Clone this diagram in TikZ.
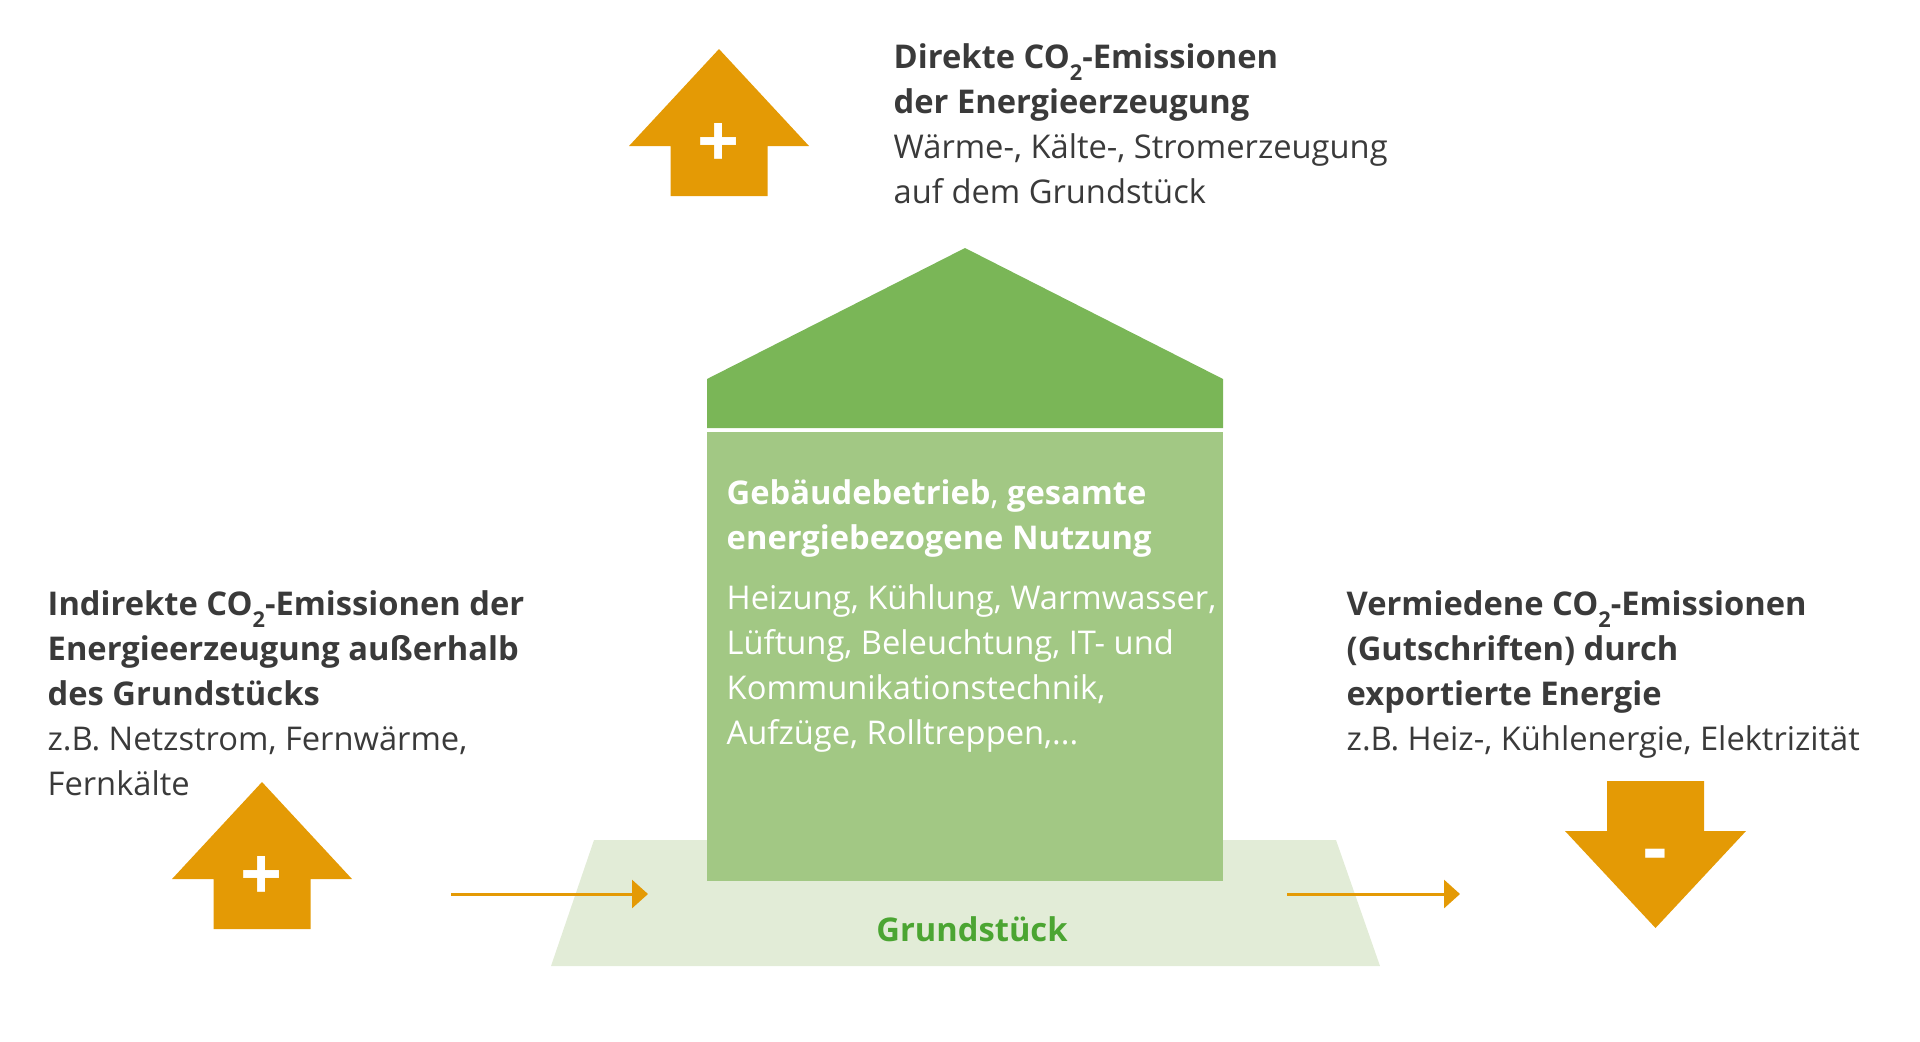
\documentclass[tikz,border=0pt]{standalone}
\usepackage{fontspec}
\setmainfont{Open Sans}
\usetikzlibrary{positioning, arrows.meta}
\definecolor{emissionorange}{RGB}{228,154,5}
\definecolor{roofgreen}{RGB}{122,182,87}
\definecolor{housegreen}{RGB}{162,200,132}
\definecolor{plotgreen}{RGB}{226,236,215}
\definecolor{plotlabel}{RGB}{75,165,50}
\definecolor{textgrey}{RGB}{58,58,58}
\newcommand{\COtwo}{CO\raisebox{-3.4pt}{\fontsize{6.2}{6.2}\selectfont 2}}

\begin{document}
\begin{tikzpicture}[
    every node/.style={font=\fontsize{9.3}{12.8}\selectfont, inner sep=0pt},
    caption/.style={anchor=north west, align=left, text=textgrey},
    inside/.style={anchor=north west, align=left, text=white},
    sign/.style={anchor=base, text=white, font=\fontsize{21}{21}\selectfont\bfseries},
    flow/.style={draw=emissionorange, line width=0.85pt,
                 -{Triangle[length=0.16cm, width=0.28cm]}},
  ]
    \useasboundingbox (0,0) rectangle (19.2,-10.41);
    % plot under the building
    \fill[plotgreen] (5.51,-9.66) -- (5.94,-8.40) -- (13.36,-8.40) -- (13.80,-9.66) -- cycle;
    \node[anchor=base, text=plotlabel, font=\fontsize{9.3}{12.8}\selectfont\bfseries]
      (plot) at (9.72,-9.41) {Grundstück};
    % building: roof + body
    \fill[roofgreen] (7.07,-4.28) -- (7.07,-3.79) -- (9.65,-2.48) -- (12.23,-3.79)
      -- (12.23,-4.28) -- cycle;
    \fill[housegreen] (7.07,-4.32) rectangle (12.23,-8.81);
    \node[inside] (use) at (7.26,-4.79)
      {\textbf{Gebäudebetrieb}, \textbf{gesamte}\\
       \textbf{energiebezogene Nutzung}\\[0.15cm]
       Heizung, Kühlung, Warmwasser,\\
       Lüftung, Beleuchtung, IT- und\\
       Kommunikationstechnik,\\
       Aufzüge, Rolltreppen,...};
    % plus arrows (tip given)
    \foreach \x/\y/\name in {7.19/-0.49/direct, 2.62/-7.82/indirect} {
        \fill[emissionorange] (\x,\y) -- ++(0.90,-0.97) -- ++(-0.415,0) -- ++(0,-0.50)
          -- ++(-0.97,0) -- ++(0,0.50) -- ++(-0.415,0) -- cycle;
        \node[sign] (\name) at ({\x},{\y-1.18}) {+};
      }
    % minus arrow
    \fill[emissionorange] (16.07,-7.81) -- (17.04,-7.81) -- (17.04,-8.31) -- (17.46,-8.31)
      -- (16.555,-9.28) -- (15.65,-8.31) -- (16.07,-8.31) -- cycle;
    \node[sign] (avoided) at (16.555,-8.73) {-};
    % captions
    \node[caption] (top) at (8.93,-0.43)
      {\textbf{Direkte \COtwo-Emissionen}\\
       \textbf{der Energieerzeugung}\\
       Wärme-, Kälte-, Stromerzeugung\\
       auf dem Grundstück};
    \node[caption] (left) at (0.47,-5.90)
      {\textbf{Indirekte \COtwo-Emissionen der}\\
       \textbf{Energieerzeugung außerhalb}\\
       \textbf{des Grundstücks}\\
       z.B. Netzstrom, Fernwärme,\\
       Fernkälte};
    \node[caption] (right) at (13.46,-5.90)
      {\textbf{Vermiedene \COtwo-Emissionen}\\
       \textbf{(Gutschriften) durch}\\
       \textbf{exportierte Energie}\\
       z.B. Heiz-, Kühlenergie, Elektrizität};
    % energy flows in and out
    \coordinate (importstart) at (4.51,-8.94);
    \coordinate (importend) at (6.48,-8.94);
    \coordinate (exportstart) at (12.87,-8.94);
    \coordinate (exportend) at (14.60,-8.94);
    \draw[flow] (importstart) -- (importend);
    \draw[flow] (exportstart) -- (exportend);
  \end{tikzpicture}
\end{document}
